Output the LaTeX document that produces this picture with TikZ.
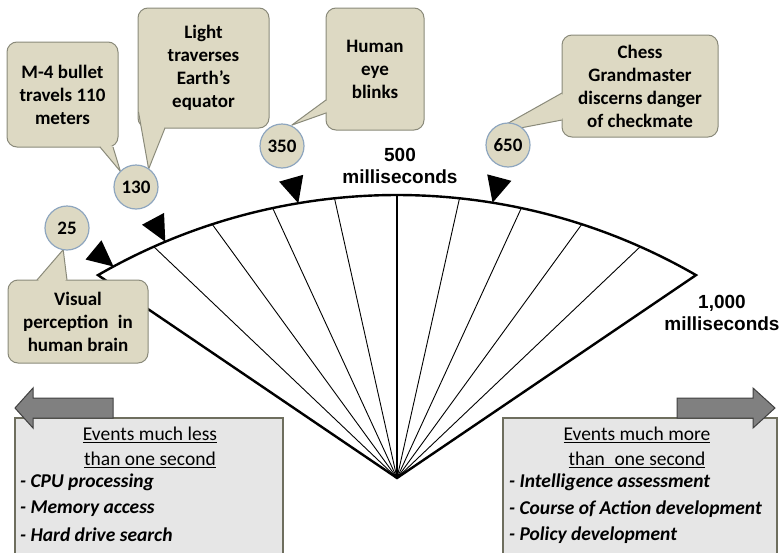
\documentclass[tikz,border=0pt]{standalone}
\usepackage{fontspec}
\setmainfont{Carlito}
\newfontfamily\arialfont{Liberation Sans}
\usetikzlibrary{calc}
\definecolor{tanfill}{HTML}{DDD9C3}
\definecolor{tanline}{HTML}{8A8A7A}
\definecolor{circline}{HTML}{8EA6BF}
\definecolor{boxfill}{HTML}{E6E6E6}
\definecolor{boxline}{HTML}{6E6E5E}
\definecolor{arrowfill}{HTML}{808080}
\definecolor{arrowline}{HTML}{404040}
\newcommand{\calloutptr}[4]{%
  \fill[tanfill] #1 -- #2 -- #3 -- #4 -- cycle;
  \draw[tanline, line width=1pt, line join=round] #1 -- #4 -- #3;
}
\begin{document}
\begin{tikzpicture}[x=1pt,y=1pt,
  callout/.style={draw=tanline, fill=tanfill, rounded corners=10pt, line width=1pt,
    inner sep=0pt, align=center, font=\bfseries\fontsize{19}{23}\selectfont},
  markcirc/.style={circle, draw=circline, fill=tanfill, line width=1.2pt,
    minimum size=44pt, inner sep=0pt, font=\bfseries\fontsize{19}{23}\selectfont},
  spoke/.style={line width=0.9pt},
  rim/.style={line width=2.4pt},
  mslabel/.style={align=center, inner sep=0pt, font=\arialfont\bfseries\fontsize{19}{22}\selectfont},
  evbox/.style={draw=boxline, fill=boxfill, line width=1.2pt},
  evarrow/.style={draw=arrowline, fill=arrowfill, line width=1pt},
  evtitle/.style={inner sep=0pt, font=\fontsize{19.5}{23}\selectfont},
  evitem/.style={inner sep=0pt, anchor=west, font=\bfseries\itshape\fontsize{19.5}{23}\selectfont}
]
\useasboundingbox (0,0) rectangle (782,-552);

% fan
\coordinate (O) at (397,-793);
\coordinate (A) at (397,-478);
\coordinate (L) at ($(O)+(120:598)$);
\coordinate (R) at ($(O)+(60:598)$);
\coordinate (T) at ($(O)+(90:598)$);
\foreach \a in {66,72,78,84,96,102,108,114}
  \draw[spoke] (A) -- ($(O)+(\a:598)$);
\draw[rim] (A) -- (T);
\draw[rim, line join=miter] (A) -- (L) arc[start angle=120, end angle=60, radius=598] -- cycle;

% circle positions
\coordinate (p25) at (67,-228);
\coordinate (p130) at (136,-187);
\coordinate (p350) at (282,-146);
\coordinate (p650) at (508,-145);

% triangles pointing at the arc
\foreach \ang/\c in {118.3/p25, 112.8/p130, 99.5/p350, 80.8/p650} {
  \coordinate (tip) at ($(O)+(\ang:598)$);
  \coordinate (bm) at ($(tip)!26pt!(\c)$);
  \fill (tip) -- ($(bm)!12.5pt!90:(tip)$) -- ($(bm)!12.5pt!-90:(tip)$) -- cycle;
}

% labels
\node[mslabel] (ms500) at (400,-166) {500\\milliseconds};
\node[mslabel] (ms1000) at (722,-312.5) {1,000\\milliseconds};

% callouts
\node[callout, minimum width=111pt, minimum height=105pt] (m4) at (62.5,-94.5) {M-4 bullet\\travels 110\\meters};
\calloutptr{(100,-147)}{(106,-143)}{(113,-147)}{($(p130)+(135:22)$)}
\node[callout, minimum width=131pt, minimum height=120pt] (light) at (203.5,-68) {Light\\traverses\\Earth’s\\equator};
\calloutptr{(138.5,-112)}{(150,-118)}{(165,-128)}{($(p130)+(55:22)$)}
\node[callout, minimum width=98pt, minimum height=122pt] (eye) at (375,-69) {Human\\eye\\blinks};
\calloutptr{(326,-100)}{(330,-106)}{(326,-113)}{($(p350)+(65:23)$)}
\node[callout, minimum width=156pt, minimum height=102pt] (chess) at (640,-86) {Chess\\Grandmaster\\discerns danger\\of checkmate};
\calloutptr{(562,-93)}{(567,-106)}{(562,-120)}{($(p650)+(150:22)$)}
\node[callout, minimum width=140pt, minimum height=83pt] (visual) at (78,-321.5) {Visual\\perception\enspace in\\human brain};
\calloutptr{(37,-280)}{(52,-285)}{(67,-280)}{($(p25)+(-100:22)$)}

% circles
\node[markcirc] (c25) at (p25) {25};
\node[markcirc] (c130) at (p130) {130};
\node[markcirc] (c350) at (p350) {350};
\node[markcirc] (c650) at (p650) {650};

% bottom boxes
\filldraw[evbox] (15,-570) -- (15,-418) -- (283,-418) -- (283,-570);
\filldraw[evbox] (503,-570) -- (503,-418) -- (777,-418) -- (777,-570);
\draw[evarrow] (113,-398) -- (33,-398) -- (33,-388) -- (15,-408) -- (33,-428) -- (33,-418) -- (113,-418) -- cycle;
\draw[evarrow] (677,-398) -- (753,-398) -- (753,-388) -- (775,-408) -- (753,-428) -- (753,-418) -- (677,-418) -- cycle;

\node[evtitle] (lt1) at (150,-435) {\underline{Events much less}};
\node[evtitle] (lt2) at (150,-460) {\underline{than one second}};
\node[evitem] (l1) at (20,-482) {- CPU processing};
\node[evitem] (l2) at (20,-509) {- Memory access};
\node[evitem] (l3) at (20,-535) {- Hard drive search};

\node[evtitle] (rt1) at (637,-435) {\underline{Events much more}};
\node[evtitle] (rt2) at (637,-460) {\underline{than\enspace one second}};
\node[evitem] (r1) at (509,-482) {- Intelligence assessment};
\node[evitem] (r2) at (509,-509) {- Course of Action development};
\node[evitem] (r3) at (509,-535) {- Policy development};
\end{tikzpicture}
\end{document}
